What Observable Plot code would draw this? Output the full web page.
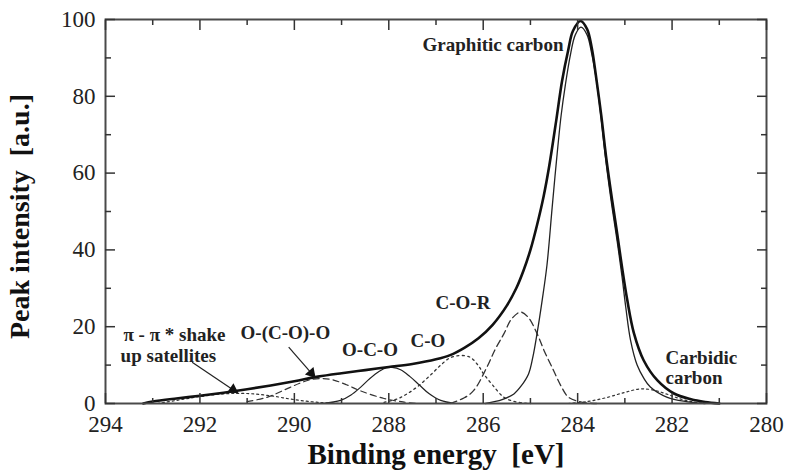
<!DOCTYPE html>
<html>
<head>
<meta charset="utf-8">
<script src="https://cdn.jsdelivr.net/npm/d3@7"></script>
<script src="https://cdn.jsdelivr.net/npm/@observablehq/plot@0.6"></script>
<style>
  html, body { margin: 0; padding: 0; background: #fff; }
  #chart svg { display: block; font-family: "Liberation Serif", "Times New Roman", serif; }
  #chart svg text { font-family: "Liberation Serif", "Times New Roman", serif; }
</style>
</head>
<body>
<div id="chart"></div>
<script>
// ---- Data: [binding energy (eV), intensity (a.u.)] ----
const envelope = [
  [293.2, 0], [293.0, 0.5], [292.5, 1.3], [292.0, 2.0], [291.5, 2.8], [291.0, 3.7],
  [290.5, 4.7], [290.0, 5.8], [289.5, 7.0], [289.0, 7.9], [288.5, 8.7], [288.0, 9.5],
  [287.5, 10.3], [287.0, 11.5], [286.7, 12.6], [286.4, 14.5], [286.1, 17.0], [285.8, 20.5],
  [285.5, 25.5], [285.3, 30], [285.15, 34.5], [285.0, 40], [284.86, 46.5], [284.72, 54],
  [284.6, 62], [284.45, 74], [284.33, 84], [284.2, 92], [284.1, 97], [283.94, 99.6],
  [283.8, 97.5], [283.7, 92.5], [283.62, 86], [283.5, 75], [283.4, 64.5], [283.27, 53],
  [283.16, 44], [283.06, 35.5], [282.95, 27], [282.81, 18.4], [282.6, 11.2], [282.31, 6.0],
  [281.96, 2.6], [281.6, 1.1], [281.3, 0.4], [281.0, 0]
];
const graphitic = [
  [285.95, 0], [285.6, 1.0], [285.35, 2.5], [285.2, 4.5], [285.04, 7.7], [284.95, 12],
  [284.86, 18.2], [284.75, 27], [284.65, 36], [284.54, 51], [284.45, 63], [284.35, 75],
  [284.26, 83], [284.15, 91], [284.05, 96], [283.93, 98], [283.8, 96], [283.7, 91],
  [283.6, 84], [283.5, 74], [283.4, 63], [283.27, 51], [283.16, 42], [283.06, 33],
  [282.98, 25], [282.88, 16.5], [282.74, 10], [282.6, 6.6], [282.46, 4.3], [282.1, 1.6],
  [281.7, 0.5], [281.3, 0]
];
const corComp = [
  [286.7, 0], [286.4, 1.5], [286.2, 3.4], [285.92, 9.5], [285.75, 14], [285.56, 18.2],
  [285.4, 22], [285.21, 23.8], [285.05, 22.5], [284.86, 18.2], [284.7, 13.5], [284.51, 8.6],
  [284.35, 4.5], [284.19, 1.6], [283.9, 0.3], [283.6, 0]
];
const coComp = [
  [288.1, 0.3], [287.82, 1.2], [287.6, 2.6], [287.35, 4.8], [287.1, 7.6], [286.9, 10],
  [286.7, 11.9], [286.48, 12.5], [286.27, 12], [286.1, 9.8], [285.99, 7.7], [285.8, 4.8],
  [285.56, 1.6], [285.3, 0.4], [285.0, 0]
];
const ocoComp = [
  [289.4, 0], [289.02, 0.8], [288.8, 2.2], [288.6, 4.2], [288.4, 6.5], [288.2, 8.4],
  [288.05, 9.3], [287.93, 9.4], [287.75, 8.8], [287.55, 7.0], [287.35, 4.8], [287.15, 2.6],
  [286.9, 0.8], [286.6, 0]
];
const ococoComp = [
  [291.0, 0.5], [290.58, 1.6], [290.2, 3.6], [289.9, 5.2], [289.66, 6.2], [289.4, 6.5],
  [289.17, 6.1], [288.9, 4.9], [288.6, 3.3], [288.1, 1.3], [287.7, 0.4], [287.4, 0]
];
const satellite = [
  [292.9, 0], [292.5, 0.8], [292.0, 1.8], [291.5, 2.5], [291.0, 2.6], [290.5, 2.0],
  [290.0, 1.0], [289.5, 0.3], [289.0, 0]
];
const carbidic = [
  [284.2, 0], [283.8, 0.5], [283.4, 1.5], [283.0, 2.9], [282.67, 3.8], [282.4, 3.5],
  [282.1, 2.4], [281.8, 1.1], [281.5, 0.3], [281.2, 0]
];

// ---- Tick values ----
const xMajorTicks = [294, 292, 290, 288, 286, 284, 282, 280];
const xMinorTicks = [293, 291, 289, 287, 285, 283, 281];
const yMajorTicks = [0, 20, 40, 60, 80, 100];
const yMinorTicks = [10, 30, 50, 70, 90];

// ---- Annotation texts (anchored in data units) ----
const labels = [
  {text: "Graphitic carbon", be: 284.30, i: 91.9, anchor: "end"},
  {text: "C-O-R", be: 287.01, i: 24.5, anchor: "start"},
  {text: "C-O", be: 287.54, i: 14.6, anchor: "start"},
  {text: "O-C-O", be: 288.99, i: 12.5, anchor: "start"},
  {text: "O-(C-O)-O", be: 291.14, i: 16.7, anchor: "start"},
  {text: "π - π * shake", be: 293.62, i: 16.4, anchor: "start"},
  {text: "up satellites", be: 293.68, i: 10.9, anchor: "start"},
  {text: "Carbidic", be: 282.14, i: 10.4, anchor: "start"},
  {text: "carbon", be: 282.14, i: 5.2, anchor: "start"}
];
const arrows = [
  {be1: 292.165, i1: 10.75, be2: 291.30, i2: 3.6, rotate: 124},
  {be1: 290.12, i1: 14.7, be2: 289.64, i2: 7.9, rotate: 139}
];

const X = d => d[0], Y = d => d[1];
const blank = () => "";
const SERIF = "Liberation Serif, Times New Roman, serif";
const tickStyle = {tickFormat: blank, label: null, stroke: "#333", strokeWidth: 1.5};

const chart = Plot.plot({
  width: 786,
  height: 473,
  marginTop: 19,
  marginRight: 20,
  marginBottom: 70,
  marginLeft: 105,
  style: {fontFamily: SERIF, fontSize: "23px", color: "#222", background: "#fff"},
  x: {domain: [294, 280]},
  y: {domain: [0, 100]},
  marks: [
    // component peaks
    Plot.line(satellite, {x: X, y: Y, stroke: "#333", strokeWidth: 1.2, strokeDasharray: "2,3", curve: "catmull-rom"}),
    Plot.line(ococoComp, {x: X, y: Y, stroke: "#333", strokeWidth: 1.2, strokeDasharray: "6,4", curve: "catmull-rom"}),
    Plot.line(ocoComp, {x: X, y: Y, stroke: "#222", strokeWidth: 1.2, curve: "catmull-rom"}),
    Plot.line(coComp, {x: X, y: Y, stroke: "#333", strokeWidth: 1.3, strokeDasharray: "2,3.5", curve: "catmull-rom"}),
    Plot.line(corComp, {x: X, y: Y, stroke: "#333", strokeWidth: 1.3, strokeDasharray: "7,4", curve: "catmull-rom"}),
    Plot.line(carbidic, {x: X, y: Y, stroke: "#333", strokeWidth: 1.2, strokeDasharray: "2,3", curve: "catmull-rom"}),
    Plot.line(graphitic, {x: X, y: Y, stroke: "#222", strokeWidth: 1.3, curve: "catmull-rom"}),
    // envelope
    Plot.line(envelope, {x: X, y: Y, stroke: "#111", strokeWidth: 2.6, curve: "catmull-rom"}),
    // arrows
    Plot.link(arrows, {x1: "be1", y1: "i1", x2: "be2", y2: "i2", stroke: "#222", strokeWidth: 1.2}),
    Plot.dot(arrows, {x: "be2", y: "i2", symbol: "triangle", r: 4.2, fill: "#111", stroke: "none", rotate: "rotate"}),
    // annotations
    Plot.text(labels, {filter: d => d.anchor === "start", x: "be", y: "i", text: "text", textAnchor: "start",
      lineAnchor: "bottom", fontSize: 19, fontWeight: "bold", fontFamily: SERIF, fill: "#222"}),
    Plot.text(labels, {filter: d => d.anchor === "end", x: "be", y: "i", text: "text", textAnchor: "end",
      lineAnchor: "bottom", fontSize: 19, fontWeight: "bold", fontFamily: SERIF, fill: "#222"}),
    // frame
    Plot.frame({stroke: "#4a4a4a", strokeWidth: 2}),
    // tick labels
    Plot.axisX(xMajorTicks, {anchor: "bottom", tickSize: 0, tickPadding: 12, label: null, fontSize: 23, fontFamily: SERIF}),
    Plot.axisY(yMajorTicks, {anchor: "left", tickSize: 0, tickPadding: 10, label: null, fontSize: 23, fontFamily: SERIF}),
    // inward ticks
    Plot.axisX(xMajorTicks, {anchor: "bottom", tickSize: -10, ...tickStyle}),
    Plot.axisX(xMinorTicks, {anchor: "bottom", tickSize: -5, ...tickStyle}),
    Plot.axisX(xMajorTicks, {anchor: "top", tickSize: -10, ...tickStyle}),
    Plot.axisX(xMinorTicks, {anchor: "top", tickSize: -5, ...tickStyle}),
    Plot.axisY(yMajorTicks, {anchor: "left", tickSize: -10, ...tickStyle}),
    Plot.axisY(yMinorTicks, {anchor: "left", tickSize: -6, ...tickStyle}),
    Plot.axisY(yMajorTicks, {anchor: "right", tickSize: -10, ...tickStyle}),
    Plot.axisY(yMinorTicks, {anchor: "right", tickSize: -6, ...tickStyle}),
    // axis titles
    Plot.text(["Binding energy  [eV]"], {frameAnchor: "bottom", dy: 60, lineAnchor: "bottom", textAnchor: "middle",
      fontSize: 29, fontWeight: "bold", fontFamily: SERIF, fill: "#111", text: d => d}),
    Plot.text(["Peak intensity  [a.u.]"], {frameAnchor: "left", dx: -77, dy: 5, rotate: -90, textAnchor: "middle",
      lineAnchor: "bottom", fontSize: 28, fontWeight: "bold", fontFamily: SERIF, fill: "#111", text: d => d})
  ]
});

document.getElementById("chart").appendChild(chart);
</script>
</body>
</html>
